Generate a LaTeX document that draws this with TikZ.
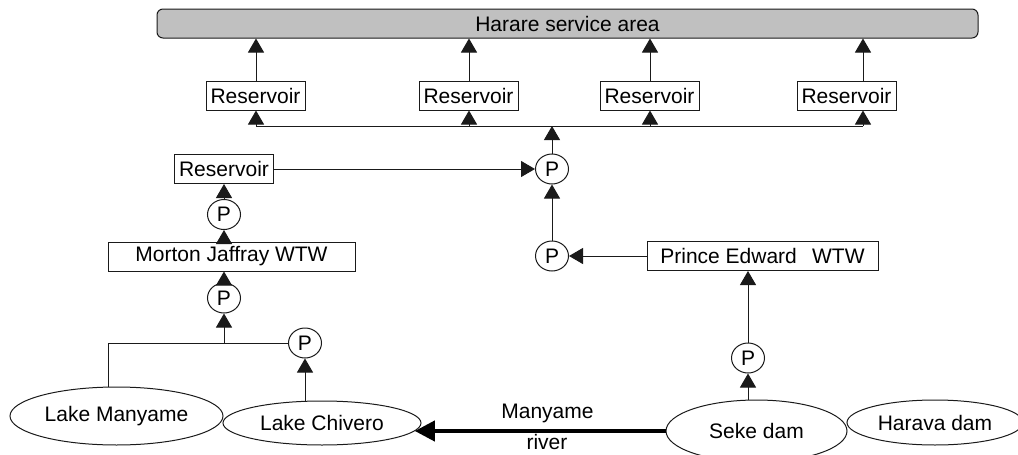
\documentclass[tikz,border=0pt]{standalone}
\usepackage{fontspec}
\setmainfont{Liberation Sans}
\usepackage{xcolor}
\usepackage{tikz}
\usetikzlibrary{positioning, arrows.meta, shapes.geometric}
\definecolor{areaGrey}{HTML}{C0C0C0}
\definecolor{lineBlack}{HTML}{1A1A1A}

\tikzset{
  unitbox/.style={draw=lineBlack, line width=1pt, fill=white, inner sep=3pt, minimum height=29pt},
  pumpnode/.style={draw=lineBlack, ellipse, line width=1pt, fill=white, inner sep=0pt, minimum width=33pt, minimum height=30pt},
  sourcenode/.style={draw=lineBlack, ellipse, line width=1pt, inner sep=0pt},
  flow/.style={-{Triangle[length=14pt, width=16pt]}, line width=1pt, color=lineBlack},
  river/.style={-{Triangle[length=20pt, width=20pt]}, line width=4pt, color=black},
}

\begin{document}
\begin{tikzpicture}[x=1pt, y=-1pt, font=\fontsize{21pt}{24pt}\selectfont]
    \useasboundingbox (0,0) rectangle (1018,455);
    % Service area on top
    \node[draw=lineBlack, line width=1pt, rounded corners=6pt, fill=areaGrey,
          minimum width=821pt, minimum height=29pt, inner sep=0pt] (area) at (567.5,23.5) {Harare service area};
    % Distribution reservoirs and their feed line
    \foreach \n/\x/\ax in {r1/255.5/256, r2/468.5/469, r3/649.5/650, r4/846.5/863} {
      \node[unitbox, minimum width=99pt] (\n) at (\x,95.5) {Reservoir};
      \coordinate (j\n) at (\ax,126);
      \draw[flow] (j\n |- \n.north) -- (j\n |- area.south);
      \draw[flow] (j\n) -- (j\n |- \n.south);
    }
    \draw[line width=1pt, color=lineBlack] (jr1) -- (jr4);
    % Mixing pump
    \node[pumpnode] (pmix) at (552,169) {P};
    \draw[flow] (pmix) -- (pmix |- jr1);
    % Morton Jaffray branch
    \node[unitbox, minimum width=99pt] (rlow) at (224,169) {Reservoir};
    \node[pumpnode] (pmj) at (224,214.5) {P};
    \node[unitbox, minimum width=247pt] (mj) at (231.5,256.5) {Morton Jaffray WTW};
    \node[pumpnode] (pmj2) at (224,298) {P};
    \node[pumpnode] (pch) at (305,343) {P};
    \node[sourcenode, minimum width=213pt, minimum height=58pt] (lm) at (116.5,416) {Lake Manyame};
    \node[sourcenode, minimum width=198pt, minimum height=44pt] (lc) at (322,423) {Lake Chivero};
    \draw[flow] (rlow) -- (rlow -| pmix.west);
    \draw[flow] (pmj) -- (rlow);
    \draw[flow] (mj.north -| pmj) -- (pmj);
    \draw[flow] (pmj2) -- (pmj2 |- mj.south);
    \draw[line width=1pt, color=lineBlack] (pch.west) -| ([xshift=-8.5pt]lm.north);
    \draw[flow] (pch.west -| pmj2) -- (pmj2);
    \draw[flow] (lc.north -| pch) -- (pch);
    % Prince Edward branch
    \node[pumpnode] (ppe) at (552,256) {P};
    \node[unitbox, minimum width=231pt] (pe) at (762.5,256) {Prince Edward\hspace{0.45em} WTW};
    \node[pumpnode] (pseke) at (748,358) {P};
    \node[sourcenode, minimum width=181pt, minimum height=62pt] (seke) at (756.5,431) {Seke dam};
    \node[sourcenode, minimum width=176pt, minimum height=45pt] (harava) at (935,422.5) {Harava dam};
    \draw[flow] (seke.north -| pseke) -- (pseke);
    \draw[flow] (pseke) -- (pseke |- pe.south);
    \draw[flow] (pe) -- (ppe);
    \draw[flow] (ppe) -- (pmix);
    % River
    \draw[river] (seke.west) -- (seke.west -| lc.-5);
    \node (rivername) at (547.5,413) {Manyame};
    \node (riverword) at (547,442) {river};
  \end{tikzpicture}
\end{document}
